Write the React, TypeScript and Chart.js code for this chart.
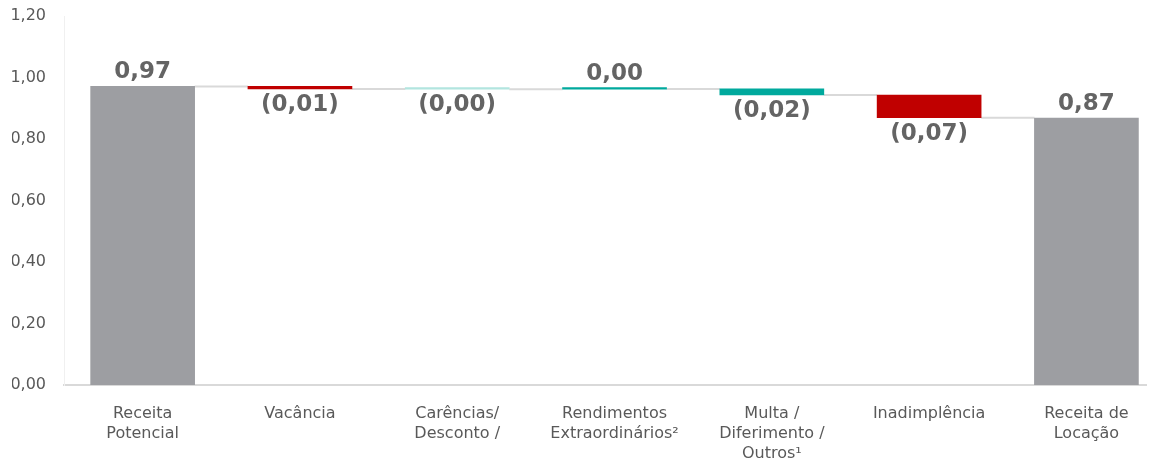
import React, { useEffect, useRef } from "react";
import { Chart, registerables } from "chart.js";

Chart.register(...registerables);

const categories: string[][] = [
  ["Receita", "Potencial"],
  ["Vacância"],
  ["Carências/", "Desconto /"],
  ["Rendimentos", "Extraordinários²"],
  ["Multa /", "Diferimento /", "Outros¹"],
  ["Inadimplência"],
  ["Receita de", "Locação"],
];
const deltas = [0.971, -0.008, -0.001, 0.001, -0.02, -0.074, 0.868];
const isTotal = [true, false, false, false, false, false, true];
const barColors = ["#9d9ea2", "#c00000", "#b2e5df", "#00a99d", "#00a99d", "#c00000", "#9d9ea2"];
const yMin = 0;
const yMax = 1.2;
const yStep = 0.2;

const FONT = "Verdana, 'DejaVu Sans', sans-serif";

function buildRanges(): [number, number][] {
  let run = 0;
  return deltas.map((d, i) => {
    if (isTotal[i]) {
      run = d;
      return [0, d] as [number, number];
    }
    const s = run;
    run += d;
    return [s, run] as [number, number];
  });
}

function fmtLabel(i: number): string {
  const v = deltas[i];
  const s = Math.abs(v).toFixed(2).replace(".", ",");
  return !isTotal[i] && v < 0 ? "(" + s + ")" : s;
}

export default function App() {
  const ref = useRef<HTMLCanvasElement | null>(null);
  useEffect(() => {
    if (!ref.current) return;
    const ranges = buildRanges();

    const waterfallPlugin = {
      id: "waterfallExtras",
      beforeDatasetsDraw(c: any) {
        const ctx = c.ctx;
        const meta = c.getDatasetMeta(0);
        const yScale = c.scales.y;
        ctx.save();
        ctx.strokeStyle = "#d9d9d9";
        ctx.lineWidth = 2;
        for (let i = 0; i < ranges.length - 1; i++) {
          const a = meta.data[i];
          const b = meta.data[i + 1];
          const lvl = yScale.getPixelForValue(ranges[i][1]);
          ctx.beginPath();
          ctx.moveTo(a.x + a.width / 2, lvl);
          ctx.lineTo(b.x - b.width / 2, lvl);
          ctx.stroke();
        }
        ctx.restore();
      },
      afterDatasetsDraw(c: any) {
        const ctx = c.ctx;
        const meta = c.getDatasetMeta(0);
        ctx.save();
        ctx.font = "bold 23px " + FONT;
        ctx.fillStyle = "#646464";
        ctx.textAlign = "center";
        ctx.textBaseline = "middle";
        meta.data.forEach((el: any, i: number) => {
          const top = Math.min(el.y, el.base);
          const bottom = Math.max(el.y, el.base);
          const above = isTotal[i] || deltas[i] >= 0;
          const y = above ? top - 14 : bottom + 16;
          ctx.fillText(fmtLabel(i), el.x, y);
        });
        ctx.restore();
      },
    };

    const chart = new Chart(ref.current, {
      type: "bar",
      data: {
        datasets: [
          {
            data: ranges.map((r, i) => ({ x: i, y: r })) as any,
            backgroundColor: barColors,
            barThickness: 104,
            minBarLength: 1.5,
            borderWidth: 0,
          },
        ],
      },
      options: {
        animation: false,
        responsive: false,
        layout: { padding: { left: 4, right: 0, top: 0, bottom: 0 } },
        plugins: {
          legend: { display: false },
          tooltip: { enabled: false },
        },
        scales: {
          x: {
            type: "linear",
            min: -0.5,
            max: 6.436,
            offset: false,
            grid: { display: false, drawTicks: false, offset: false },
            border: { color: "#d9d9d9", width: 2 },
            afterBuildTicks: (axis: any) => {
              axis.ticks = categories.map((_, i) => ({ value: i }));
            },
            afterFit: (axis: any) => {
              axis.height = 75;
              axis.paddingLeft = 0;
              axis.paddingRight = 0;
            },
            ticks: {
              autoSkip: false,
              maxRotation: 0,
              minRotation: 0,
              padding: 19,
              color: "#595959",
              font: { family: FONT, size: 16, lineHeight: 1.25 },
              callback: (v: any) => categories[Math.round(Number(v))] ?? "",
            },
          },
          y: {
            min: yMin,
            max: yMax,
            grid: { display: false, drawTicks: false },
            border: { color: "#f0f0f0", width: 1 },
            afterFit: (axis: any) => {
              axis.width = 52;
              axis.paddingTop = 8;
              axis.paddingBottom = 0;
            },
            ticks: {
              stepSize: yStep,
              padding: 18,
              color: "#595959",
              font: { family: FONT, size: 16 },
              callback: (v: any) => Number(v).toFixed(2).replace(".", ","),
            },
          },
        },
      },
      plugins: [waterfallPlugin],
    } as any);
    return () => chart.destroy();
  }, []);
  return <canvas ref={ref} width={1147} height={452} style={{ display: "block" }} />;
}
